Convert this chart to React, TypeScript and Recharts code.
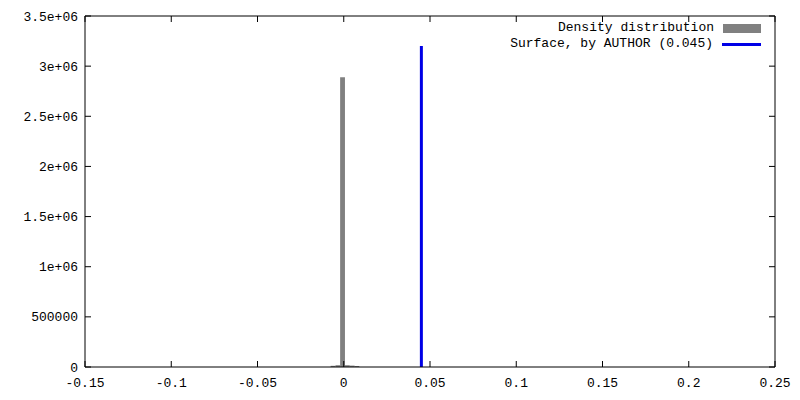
import React from 'react';
import { ComposedChart, XAxis, YAxis, ReferenceArea, ReferenceLine, Legend } from 'recharts';

// Histogram bins (centres) and densities
const binCenters = [-0.0062, -0.0034, -0.0007, 0.0021, 0.0049, 0.0076];
const binWidth = 0.0028;
const densityValues = [12000, 18000, 2890000, 18000, 14000, 10000];

// Surface marker
const surfaceX = 0.045;
const surfaceHeight = 3200000;

// Axis ticks
const xTicks = [-0.15, -0.1, -0.05, 0, 0.05, 0.1, 0.15, 0.2, 0.25];
const xTickLabels = ['-0.15', '-0.1', '-0.05', '0', '0.05', '0.1', '0.15', '0.2', '0.25'];
const yTicks = [0, 500000, 1000000, 1500000, 2000000, 2500000, 3000000, 3500000];
const yTickLabels = ['0', '500000', '1e+06', '1.5e+06', '2e+06', '2.5e+06', '3e+06', '3.5e+06'];

// Legend
const seriesNames = ['Density distribution', 'Surface, by AUTHOR (0.045)'];
const seriesColors = ['#808080', '#0000e6'];

const FONT = '"Liberation Mono", "DejaVu Sans Mono", monospace';
const TICK = 6;

const bins = binCenters.map((c, i) => ({ x0: c - binWidth / 2, x1: c + binWidth / 2, y: densityValues[i] }));

const BottomTick = (props: any) => {
  const { x, y, payload } = props;
  const i = xTicks.indexOf(payload.value);
  return (
    <g>
      <line x1={x} y1={y} x2={x} y2={y - TICK} stroke="#000" strokeWidth={1} />
      <text x={x} y={y + 20} textAnchor="middle" fontFamily={FONT} fontSize={13} fill="#000">
        {i >= 0 ? xTickLabels[i] : ''}
      </text>
    </g>
  );
};

const TopTick = (props: any) => {
  const { x, y } = props;
  return <line x1={x} y1={y} x2={x} y2={y + TICK} stroke="#000" strokeWidth={1} />;
};

const LeftTick = (props: any) => {
  const { x, y, payload } = props;
  const i = yTicks.indexOf(payload.value);
  return (
    <g>
      <line x1={x} y1={y} x2={x + TICK} y2={y} stroke="#000" strokeWidth={1} />
      <text x={x - 7} y={y} dy="0.35em" textAnchor="end" fontFamily={FONT} fontSize={13} fill="#000">
        {i >= 0 ? yTickLabels[i] : ''}
      </text>
    </g>
  );
};

const RightTick = (props: any) => {
  const { x, y } = props;
  return <line x1={x} y1={y} x2={x - TICK} y2={y} stroke="#000" strokeWidth={1} />;
};

const LegendContent = () => (
  <div style={{ fontFamily: FONT, fontSize: 13, color: '#000' }}>
    {seriesNames.map((name, i) => (
      <div key={name} style={{ display: 'flex', justifyContent: 'flex-end', alignItems: 'center', height: 16 }}>
        <span style={{ whiteSpace: 'pre', lineHeight: '16px' }}>{name}</span>
        <span style={{ display: 'inline-block', width: 9 }} />
        {i === 0 ? (
          <span style={{ display: 'inline-block', width: 38, height: 9, background: seriesColors[0] }} />
        ) : (
          <span style={{ display: 'inline-block', width: 39, height: 3, background: seriesColors[1] }} />
        )}
      </div>
    ))}
  </div>
);

export default function App() {
  return (
    <div style={{ position: 'absolute', left: 0, top: 0, width: 800, height: 400, background: '#fff' }}>
      <ComposedChart width={800} height={400} data={bins} margin={{ top: 0, right: 0, bottom: 0, left: 0 }}>
        <XAxis
          xAxisId="bottom"
          type="number"
          dataKey="x0"
          domain={[-0.15, 0.25]}
          ticks={xTicks}
          interval={0}
          allowDataOverflow
          height={33}
          tickSize={0}
          tickMargin={0}
          tickLine={false}
          axisLine={{ stroke: '#000', strokeWidth: 1 }}
          tick={<BottomTick />}
        />
        <XAxis
          xAxisId="top"
          orientation="top"
          type="number"
          dataKey="x1"
          domain={[-0.15, 0.25]}
          ticks={xTicks}
          interval={0}
          allowDataOverflow
          height={16}
          tickSize={0}
          tickMargin={0}
          tickLine={false}
          axisLine={{ stroke: '#000', strokeWidth: 1 }}
          tick={<TopTick />}
        />
        <YAxis
          yAxisId="left"
          type="number"
          dataKey="y"
          domain={[0, 3500000]}
          ticks={yTicks}
          interval={0}
          allowDataOverflow
          width={85}
          tickSize={0}
          tickMargin={0}
          tickLine={false}
          axisLine={{ stroke: '#000', strokeWidth: 1 }}
          tick={<LeftTick />}
        />
        <YAxis
          yAxisId="right"
          orientation="right"
          type="number"
          dataKey="y"
          domain={[0, 3500000]}
          ticks={yTicks}
          interval={0}
          allowDataOverflow
          width={25}
          tickSize={0}
          tickMargin={0}
          tickLine={false}
          axisLine={{ stroke: '#000', strokeWidth: 1 }}
          tick={<RightTick />}
        />
        {bins.map((b, i) => (
          <ReferenceArea
            key={i}
            xAxisId="bottom"
            yAxisId="left"
            x1={b.x0}
            x2={b.x1}
            y1={0}
            y2={b.y}
            fill={seriesColors[0]}
            fillOpacity={1}
            stroke="none"
            ifOverflow="visible"
          />
        ))}
        <ReferenceLine
          xAxisId="bottom"
          yAxisId="left"
          segment={[{ x: surfaceX, y: 0 }, { x: surfaceX, y: surfaceHeight }]}
          stroke={seriesColors[1]}
          strokeWidth={3}
          ifOverflow="visible"
        />
        <Legend
          layout="vertical"
          align="center"
          verticalAlign="middle"
          content={<LegendContent />}
          wrapperStyle={{ position: 'absolute', top: 20, left: 461, width: 300, height: 32 }}
        />
      </ComposedChart>
    </div>
  );
}
